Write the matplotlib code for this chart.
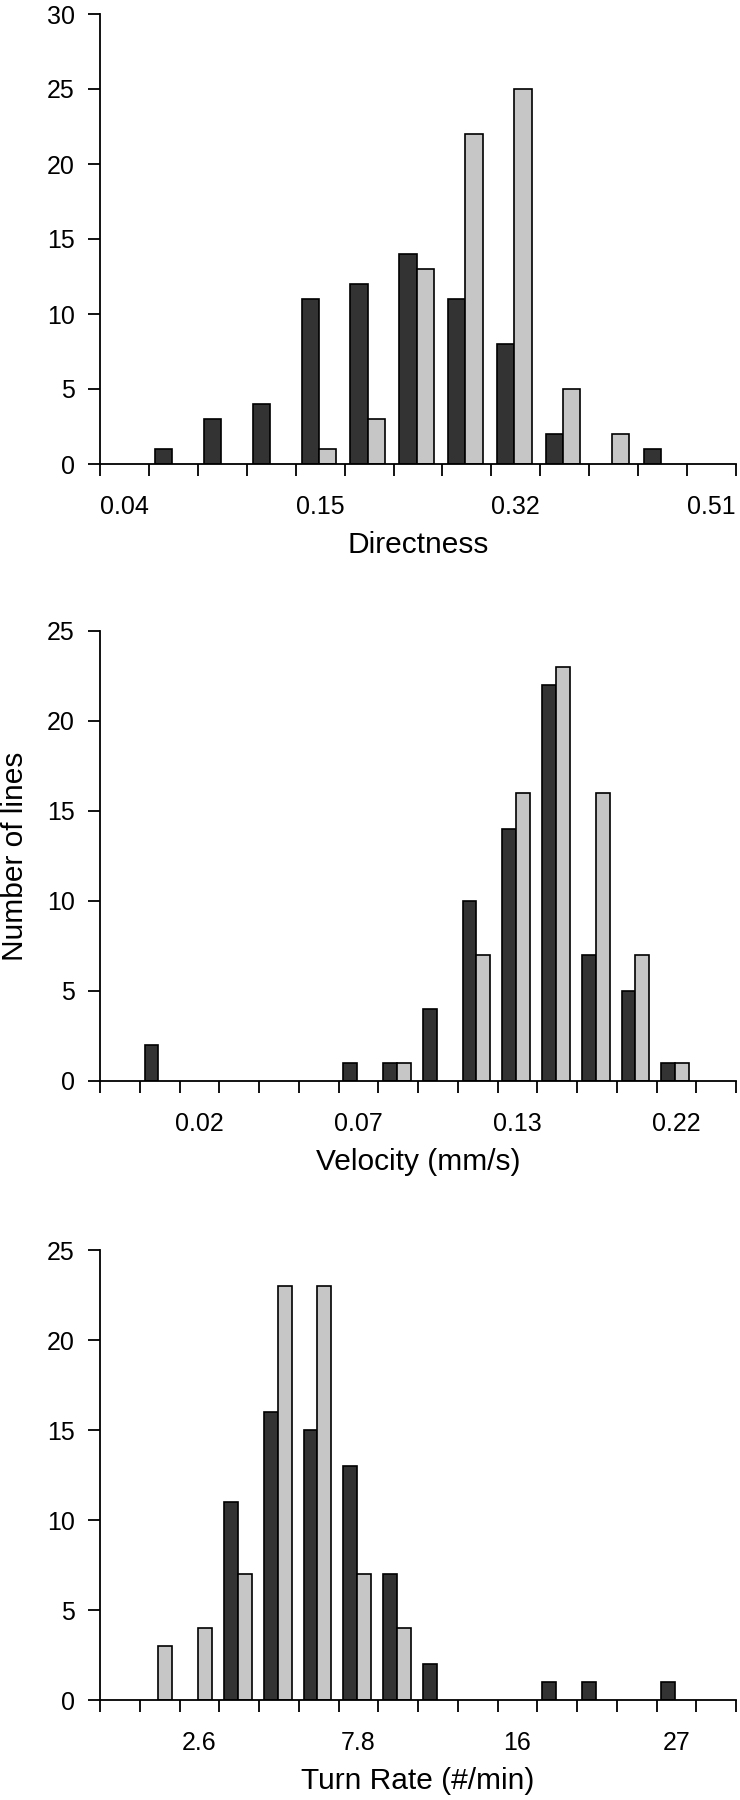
#!/usr/bin/env python3
"""
Three stacked paired histograms: directness, velocity and turn rate.
Dark bars = first group, light bars = second group.
"""

import numpy as np
import matplotlib.pyplot as plt

# counts per bin (bins are categorical, ticks at bin edges)
directness_dark = [0, 1, 3, 4, 11, 12, 14, 11, 8, 2, 0, 1, 0]
directness_light = [0, 0, 0, 0, 1, 3, 13, 22, 25, 5, 2, 0, 0]
directness_ticks = ["0.04", "0.15", "0.32", "0.51"]

velocity_dark = [0, 2, 0, 0, 0, 0, 1, 1, 4, 10, 14, 22, 7, 5, 1, 0]
velocity_light = [0, 0, 0, 0, 0, 0, 0, 1, 0, 7, 16, 23, 16, 7, 1, 0]
velocity_ticks = ["0.02", "0.07", "0.13", "0.22"]

turn_dark = [0, 0, 0, 11, 16, 15, 13, 7, 2, 0, 0, 1, 1, 0, 1, 0]
turn_light = [0, 3, 4, 7, 23, 23, 7, 4, 0, 0, 0, 0, 0, 0, 0, 0]
turn_ticks = ["2.6", "7.8", "16", "27"]

DARK = "#333333"
LIGHT = "#c6c6c6"

plt.rcParams.update({
    "font.family": ["Liberation Sans", "DejaVu Sans"],
    "axes.linewidth": 1.3,
})

W, H = 740, 1800


def axes_rect(top_px, bottom_px, left_px=100, right_px=736):
    return [left_px / W, 1 - bottom_px / H, (right_px - left_px) / W, (bottom_px - top_px) / H]


def draw_hist(ax, dark, light, labels, first, ymax, xlabel):
    dark = np.asarray(dark)
    light = np.asarray(light)
    n = len(dark)
    x = np.arange(n)

    m = dark > 0
    ax.bar(x[m] + 0.12, dark[m], width=0.35, align="edge",
           color=DARK, edgecolor="black", linewidth=1.2)
    m = light > 0
    ax.bar(x[m] + 0.47, light[m], width=0.35, align="edge",
           color=LIGHT, edgecolor="black", linewidth=1.2)

    ax.set_xlim(0, n)
    ax.set_ylim(0, ymax)
    ax.spines["top"].set_visible(False)
    ax.spines["right"].set_visible(False)

    ax.set_yticks(np.arange(0, ymax + 1, 5))
    ax.tick_params(axis="y", length=8.6, width=1.3, pad=9.4, labelsize=18)

    ax.set_xticks(np.arange(n + 1))
    ax.set_xticklabels([])
    ax.tick_params(axis="x", which="major", length=8.6, width=1.3)
    ax.set_xticks(first + 0.5 + 4 * np.arange(len(labels)), minor=True)
    ax.set_xticklabels(labels, minor=True)
    ax.tick_params(axis="x", which="minor", length=0, pad=22.3, labelsize=18)

    ax.set_xlabel(xlabel, fontsize=21.5, labelpad=9)


fig = plt.figure(figsize=(W / 100, H / 100), dpi=100)

ax1 = fig.add_axes(axes_rect(14, 464))
draw_hist(ax1, directness_dark, directness_light, directness_ticks, 0, 30, "Directness")

ax2 = fig.add_axes(axes_rect(631, 1081))
draw_hist(ax2, velocity_dark, velocity_light, velocity_ticks, 2, 25, "Velocity (mm/s)")
ax2.set_ylabel("Number of lines", fontsize=21.5, labelpad=13)

ax3 = fig.add_axes(axes_rect(1250, 1700))
draw_hist(ax3, turn_dark, turn_light, turn_ticks, 2, 25, "Turn Rate (#/min)")

fig.savefig("out.png", dpi=100)
